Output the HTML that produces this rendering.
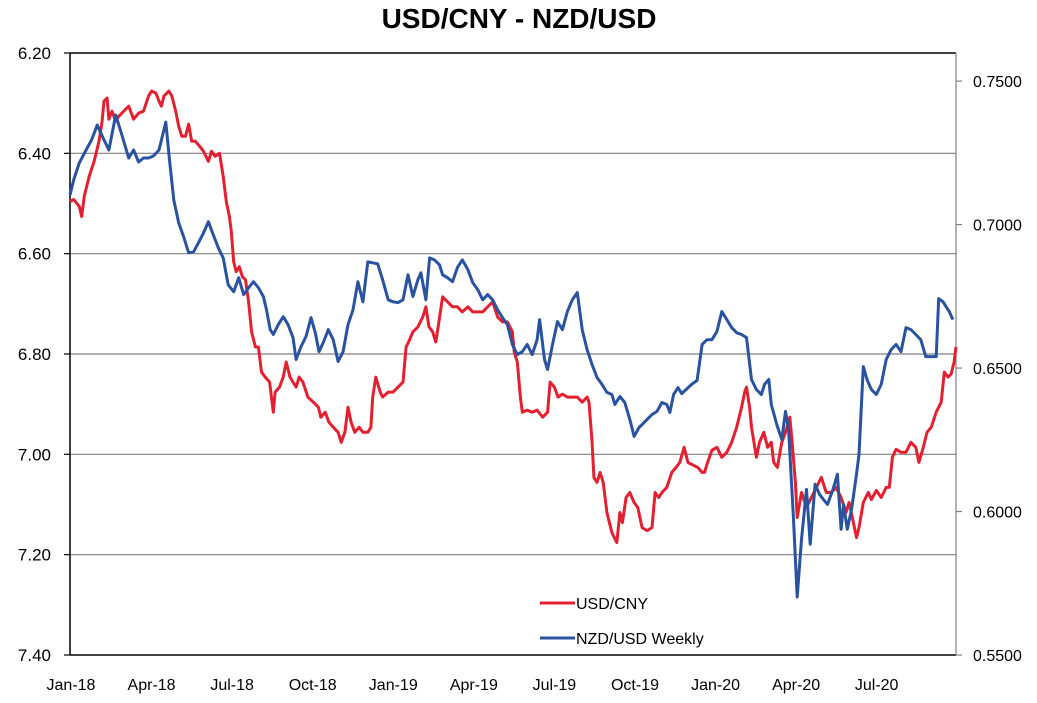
<!DOCTYPE html>
<html><head><meta charset="utf-8"><style>
html,body{margin:0;padding:0;background:#fff;}
svg{display:block;font-family:"Liberation Sans",sans-serif;}
</style></head><body>
<svg id="chart" width="1037" height="703">
<text x="519" y="28" text-anchor="middle" font-size="28" font-weight="bold">USD/CNY - NZD/USD</text>
<g id="grid"></g><g id="axes"></g><g id="series"></g>
<g>
<line x1="540" y1="603" x2="575" y2="603" stroke="#e3202f" stroke-width="3"/>
<text x="576" y="609" font-size="16">USD/CNY</text>
<line x1="540" y1="638" x2="575" y2="638" stroke="#2952a0" stroke-width="3"/>
<text x="576" y="644" font-size="16">NZD/USD Weekly</text>
</g>
</svg>
<script>
const leftTicks=[6.2,6.4,6.6,6.8,7.0,7.2,7.4];
const rightTicks=[0.75,0.70,0.65,0.60,0.55];
const xLabels=["Jan-18","Apr-18","Jul-18","Oct-18","Jan-19","Apr-19","Jul-19","Oct-19","Jan-20","Apr-20","Jul-20"];
const cnyWeeks=[0,0.6,1.5,1.9,2.3,3.1,3.9,4.7,5.2,5.5,6.0,6.3,6.8,7.4,7.9,8.7,9.5,10.3,11.1,11.9,12.7,13.2,13.9,14.4,14.8,15.2,16.0,16.5,17.1,17.6,18.1,18.7,19.2,19.7,20.3,21.0,21.6,22.4,22.9,23.5,24.2,24.8,25.3,25.8,26.1,26.5,26.9,27.4,27.9,28.4,28.9,29.4,30.0,30.5,31.0,31.6,32.3,32.9,33.2,33.9,34.5,35.0,35.6,36.1,36.6,37.1,37.7,38.5,39.4,40.2,40.6,41.3,41.9,42.6,43.4,43.9,44.5,45.0,45.5,46.1,46.8,47.4,48.2,48.7,49.0,49.5,50.2,50.6,51.5,52.3,53.1,53.9,54.4,54.8,55.5,56.3,57.1,57.6,58.1,58.7,59.2,59.7,60.3,61.1,61.9,62.7,63.5,64.4,65.2,66.0,66.8,67.6,68.4,69.2,70.0,70.8,71.6,71.9,72.4,72.9,73.2,74.0,74.8,75.6,76.5,77.3,77.7,78.4,79.0,79.7,80.5,81.3,82.1,82.9,83.7,84.0,84.5,84.8,85.3,85.8,86.3,86.9,87.7,88.5,89.0,89.4,90.0,90.6,91.3,91.9,92.6,93.4,94.2,94.7,95.3,95.8,96.6,97.4,98.1,98.7,99.4,100.0,100.6,101.6,102.3,102.7,103.2,103.9,104.7,105.5,106.3,107.1,107.9,108.7,109.2,109.5,110.0,110.3,111.1,111.6,112.3,112.9,113.5,113.9,114.5,115.2,115.8,116.5,116.8,117.4,117.7,118.4,119.2,120.0,120.8,121.6,122.4,123.2,124.0,124.8,125.6,126.1,126.8,127.3,127.7,128.4,129.2,129.7,130.5,131.3,132.1,132.6,133.1,133.7,134.5,135.3,136.1,136.9,137.4,138.1,138.7,139.4,140.2,141.0,141.5,142.1,142.6,143.1,143.4];
const cnyValues=[6.496,6.492,6.506,6.526,6.486,6.446,6.416,6.376,6.336,6.296,6.29,6.332,6.316,6.336,6.326,6.316,6.306,6.332,6.32,6.316,6.286,6.276,6.28,6.296,6.306,6.286,6.276,6.286,6.316,6.346,6.366,6.366,6.342,6.376,6.376,6.386,6.396,6.416,6.396,6.406,6.4,6.446,6.496,6.526,6.556,6.616,6.636,6.626,6.646,6.652,6.696,6.756,6.786,6.786,6.836,6.846,6.856,6.916,6.876,6.866,6.846,6.816,6.846,6.856,6.866,6.846,6.856,6.886,6.896,6.906,6.926,6.916,6.936,6.946,6.956,6.976,6.956,6.906,6.936,6.956,6.946,6.956,6.956,6.946,6.886,6.846,6.876,6.886,6.876,6.876,6.866,6.856,6.786,6.776,6.756,6.746,6.726,6.706,6.746,6.756,6.776,6.736,6.686,6.696,6.706,6.706,6.716,6.706,6.716,6.716,6.716,6.706,6.696,6.726,6.736,6.736,6.756,6.796,6.816,6.886,6.916,6.912,6.916,6.912,6.926,6.916,6.856,6.866,6.886,6.88,6.886,6.886,6.886,6.896,6.886,6.896,6.976,7.046,7.056,7.036,7.056,7.116,7.156,7.176,7.116,7.136,7.086,7.076,7.096,7.106,7.146,7.152,7.146,7.076,7.086,7.076,7.066,7.036,7.026,7.016,6.986,7.016,7.02,7.026,7.036,7.036,7.016,6.992,6.986,7.006,6.996,6.976,6.946,6.906,6.876,6.866,6.906,6.946,7.006,6.976,6.956,6.986,6.976,7.016,7.026,6.976,6.956,6.926,6.966,7.056,7.126,7.076,7.106,7.086,7.066,7.046,7.076,7.076,7.066,7.086,7.116,7.096,7.136,7.166,7.146,7.096,7.076,7.09,7.072,7.086,7.066,7.066,7.006,6.99,6.996,6.996,6.976,6.986,7.016,6.986,6.956,6.946,6.916,6.896,6.836,6.846,6.84,6.816,6.786];
const nzdWeeks=[0,0.6,1.5,2.6,3.5,4.4,5.5,6.3,7.4,8.4,9.5,10.3,11.1,11.9,12.7,13.5,14.4,15.5,16.1,16.8,17.6,18.4,19.2,20.0,20.8,21.6,22.4,23.2,24.0,24.8,25.6,26.5,27.3,28.1,28.9,29.7,30.5,31.3,31.8,32.4,32.9,33.7,34.5,35.3,36.1,36.6,37.4,38.2,39.0,39.7,40.3,41.0,41.8,42.6,43.4,44.2,45.0,45.8,46.6,47.4,48.2,49.0,49.8,50.6,51.5,52.3,53.1,53.9,54.7,55.5,56.3,56.8,57.6,58.2,59.0,59.8,60.3,61.1,61.9,62.7,63.5,64.4,65.2,66.0,66.8,67.6,68.4,69.2,70.0,70.8,71.6,72.4,73.2,74.0,74.8,75.6,76.0,76.8,77.3,78.1,78.9,79.7,80.5,81.3,82.1,82.9,83.7,84.5,85.3,86.1,86.9,87.7,88.2,89.0,89.8,90.6,91.3,92.1,92.6,93.4,94.2,95.0,95.8,96.6,97.1,97.7,98.4,99.0,99.7,100.6,101.5,102.3,103.1,103.9,104.7,105.5,106.3,107.1,107.9,108.7,109.5,110.3,111.1,111.9,112.4,113.1,113.5,114.4,115.2,115.8,116.3,117.1,117.7,118.4,119.2,119.8,120.6,121.3,121.9,122.6,123.5,124.2,124.8,125.2,125.8,126.5,127.3,127.7,128.4,129.0,129.7,130.5,131.3,132.1,132.9,133.7,134.5,135.3,136.1,136.9,137.7,138.5,139.4,140.2,140.6,141.3,141.8,142.3,142.9];
const nzdValues=[.7103,.7156,.7215,.7260,.7295,.7347,.7295,.7260,.7382,.7312,.7232,.7260,.7218,.7232,.7232,.7239,.7260,.7357,.7225,.7086,.7006,.6957,.6902,.6905,.6937,.6971,.7010,.6964,.6919,.6884,.6790,.6766,.6815,.6756,.6780,.6801,.6780,.6749,.6703,.6634,.6617,.6651,.6679,.6651,.6606,.6530,.6575,.6610,.6676,.6623,.6557,.6589,.6634,.6599,.6523,.6557,.6651,.6703,.6801,.6731,.6870,.6867,.6863,.6808,.6738,.6731,.6728,.6738,.6825,.6749,.6808,.6832,.6738,.6884,.6877,.6860,.6825,.6815,.6801,.6850,.6877,.6843,.6797,.6773,.6738,.6756,.6738,.6703,.6676,.6651,.6582,.6547,.6557,.6582,.6547,.6599,.6669,.6530,.6495,.6582,.6662,.6634,.6697,.6738,.6763,.6634,.6564,.6512,.6467,.6443,.6415,.6408,.6373,.6401,.6380,.6321,.6262,.6293,.6303,.6321,.6338,.6349,.6380,.6373,.6345,.6408,.6432,.6411,.6425,.6443,.6457,.6582,.6599,.6599,.6627,.6697,.6669,.6641,.6623,.6617,.6606,.6460,.6425,.6408,.6443,.6460,.6373,.6303,.6251,.6349,.6286,.5973,.5702,.5903,.6077,.5886,.6095,.6060,.6043,.6025,.6077,.6130,.5938,.6025,.5938,.6008,.6130,.6199,.6505,.6460,.6425,.6408,.6443,.6530,.6564,.6582,.6557,.6641,.6634,.6617,.6599,.6540,.6540,.6540,.6742,.6731,.6714,.6697,.6669];

const NS="http://www.w3.org/2000/svg";
const L=70,R=956,T=53,B=655;
const xs=w=>L+(w/143.4)*(R-L);
const yl=v=>T+(v-6.2)/(7.4-6.2)*(B-T);
const yr=v=>T+(0.7598-v)/(0.7598-0.55)*(B-T);
function mk(tag,attrs,parent){const e=document.createElementNS(NS,tag);for(const k in attrs)e.setAttribute(k,attrs[k]);parent.appendChild(e);return e;}
const grid=document.getElementById('grid'),axes=document.getElementById('axes'),ser=document.getElementById('series');
leftTicks.forEach((t,i)=>{
  const y=yl(t);
  const g=mk('line',{x1:L,x2:R,y1:y,y2:y,stroke:(i==0||i==leftTicks.length-1)?'#000':'#808080','stroke-width':(i==0||i==leftTicks.length-1)?1.5:1.2},grid);
  
  
  mk('line',{x1:L-6,x2:L,y1:y,y2:y,stroke:'#000','stroke-width':1.2},axes);
  const tx=mk('text',{x:51,y:y+6,'text-anchor':'end','font-size':17},axes);
  tx.textContent=t.toFixed(2);
  
  
});
rightTicks.forEach(t=>{
  const y=yr(t);
  mk('line',{x1:R,x2:R+6,y1:y,y2:y,stroke:'#808080','stroke-width':1.2},axes);
  const tx=mk('text',{x:973,y:y+6,'font-size':16},axes);
  tx.textContent=t.toFixed(4);
  
  
});
const la=mk('line',{x1:L,x2:L,y1:T,y2:B,stroke:'#000','stroke-width':1.5},axes);


const ra=mk('line',{x1:R,x2:R,y1:T,y2:B,stroke:'#808080','stroke-width':1.2},axes);


xLabels.forEach((s,i)=>{
  const tx=mk('text',{x:xs(i*13.04)+1,y:690,'text-anchor':'middle','font-size':16},axes);
  tx.textContent=s;
  
  
});
function path(wk,vals,yf,color,name){
  const d=vals.map((v,i)=>(i?'L':'M')+xs(wk[i]).toFixed(1)+','+yf(v).toFixed(1)).join('');
  const p=mk('path',{d:d,fill:'none',stroke:color,'stroke-width':3,'stroke-linejoin':'round'},ser);
  
  
}
path(cnyWeeks,cnyValues,yl,'#e3202f','usdcny-line');
path(nzdWeeks,nzdValues,yr,'#2952a0','nzdusd-line');
</script>
</body></html>
